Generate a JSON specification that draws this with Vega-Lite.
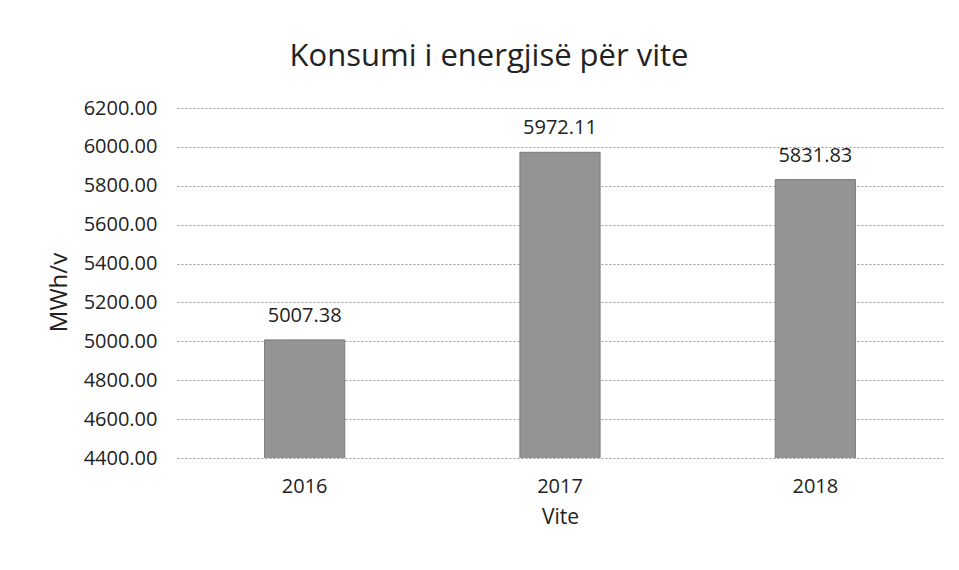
{
  "$schema": "https://vega.github.io/schema/vega-lite/v6.json",
  "autosize": "none",
  "width": 766,
  "height": 350,
  "padding": {"left": 177, "top": 108, "right": 16, "bottom": 112},
  "background": "#ffffff",
  "title": {
    "text": "Konsumi i energjisë për vite",
    "font": "Open Sans",
    "fontSize": 31,
    "fontWeight": "normal",
    "color": "#222222",
    "anchor": "middle",
    "dx": -71,
    "offset": 25
  },
  "data": {
    "values": [
      {"year": "2016", "value": 5007.38},
      {"year": "2017", "value": 5972.11},
      {"year": "2018", "value": 5831.83}
    ]
  },
  "encoding": {
    "x": {
      "field": "year",
      "type": "nominal",
      "title": "Vite",
      "scale": {"paddingInner": 0.686, "paddingOuter": 0.343},
      "axis": {
        "labelAngle": 0,
        "labelFont": "Open Sans",
        "labelFontSize": 20,
        "labelColor": "#222222",
        "labelPadding": 18,
        "ticks": false,
        "domain": false,
        "titleFont": "Open Sans",
        "titleFontSize": 21,
        "titleFontWeight": "normal",
        "titleColor": "#222222",
        "titlePadding": 10
      }
    },
    "y": {
      "field": "value",
      "type": "quantitative",
      "title": "MWh/v",
      "scale": {"domain": [4400, 6200], "zero": false, "nice": false},
      "axis": {
        "values": [4400, 4600, 4800, 5000, 5200, 5400, 5600, 5800, 6000, 6200],
        "format": ".2f",
        "labelFont": "Open Sans",
        "labelFontSize": 20,
        "labelColor": "#222222",
        "labelPadding": 20,
        "ticks": false,
        "domain": false,
        "grid": true,
        "gridColor": "#9a9a9a",
        "gridDash": [2, 2],
        "gridWidth": 1,
        "titleFont": "Open Sans",
        "titleFontSize": 24,
        "titleFontWeight": "normal",
        "titleColor": "#222222",
        "titlePadding": 12,
        "titleY": 184
      }
    }
  },
  "layer": [
    {
      "mark": {"type": "bar", "clip": true, "color": "#949494", "stroke": "#7a7a7a", "strokeWidth": 1}
    },
    {
      "mark": {"type": "text", "baseline": "alphabetic", "dy": -18, "font": "Open Sans", "fontSize": 20, "color": "#222222"},
      "encoding": {
        "text": {"field": "value", "type": "quantitative", "format": ".2f"}
      }
    }
  ],
  "config": {"view": {"stroke": null}}
}
